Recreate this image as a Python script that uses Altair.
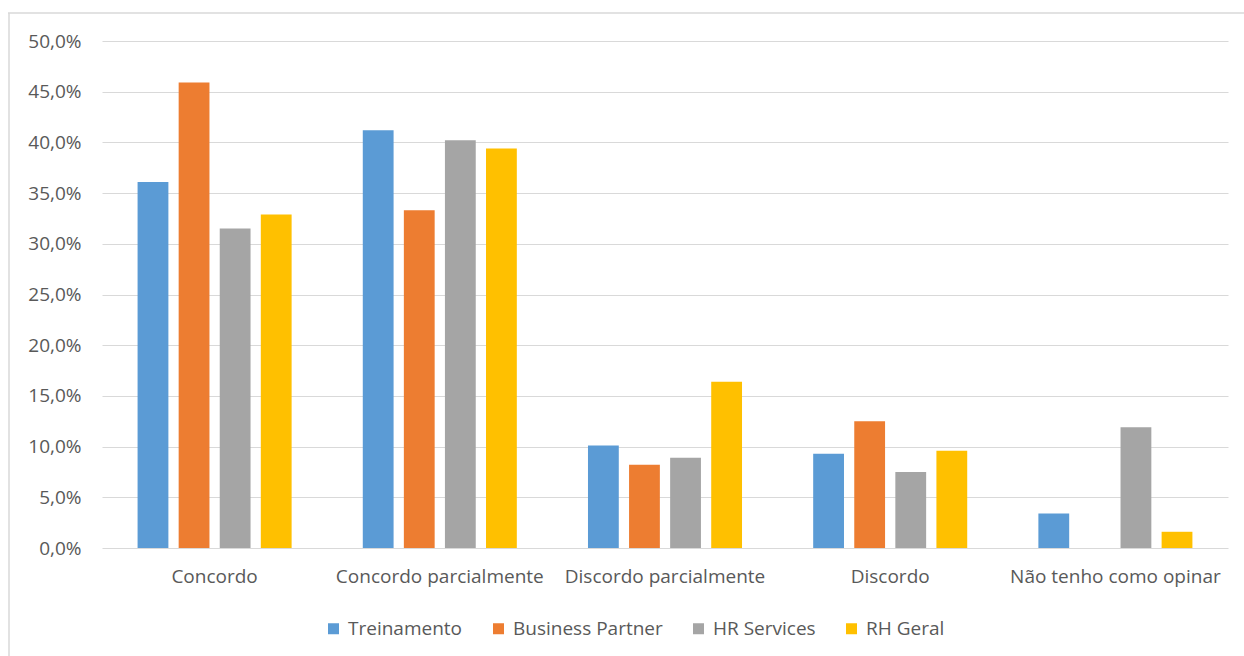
import altair as alt
import pandas as pd

categories = ["Concordo", "Concordo parcialmente", "Discordo parcialmente", "Discordo", "Não tenho como opinar"]
series = ["Treinamento", "Business Partner", "HR Services", "RH Geral"]
treinamento = [0.361, 0.412, 0.101, 0.093, 0.034]
business_partner = [0.459, 0.333, 0.082, 0.125, 0.0]
hr_services = [0.315, 0.402, 0.089, 0.075, 0.119]
rh_geral = [0.329, 0.394, 0.164, 0.096, 0.016]
colors = ["#5B9BD5", "#ED7D31", "#A5A5A5", "#FFC000"]

rows = []
for s, vals in zip(series, [treinamento, business_partner, hr_services, rh_geral]):
    for c, v in zip(categories, vals):
        rows.append({"categoria": c, "serie": s, "valor": v})
df = pd.DataFrame(rows)

FONT = "Open Sans"
TXT = "#595959"
GRID = "#D9D9D9"

bars = alt.Chart(df).mark_bar().encode(
    x=alt.X("categoria:N", sort=categories, title=None,
            scale=alt.Scale(paddingInner=0.316, paddingOuter=0.158),
            axis=alt.Axis(labelAngle=0, domain=False, ticks=False, labelPadding=19,
                          labelLimit=0, labelFont=FONT, labelFontSize=19,
                          labelColor=TXT, grid=False)),
    xOffset=alt.XOffset("serie:N", sort=series,
                        scale=alt.Scale(paddingInner=0.25, paddingOuter=0)),
    y=alt.Y("valor:Q", title=None,
            scale=alt.Scale(domain=[0, 0.5], nice=False),
            axis=alt.Axis(format=".1%", values=[i * 0.05 for i in range(11)], domain=False,
                          ticks=False, labelPadding=21, labelFont=FONT, labelFontSize=19,
                          labelColor=TXT, gridColor=GRID, gridWidth=1.2)),
    color=alt.Color("serie:N", sort=series, title=None,
                    scale=alt.Scale(domain=series, range=colors),
                    legend=alt.Legend(orient="none", direction="horizontal",
                                      legendX=222, legendY=578,
                                      symbolType="square", symbolSize=121,
                                      symbolStrokeWidth=0, labelOffset=5,
                                      columnPadding=26, labelFont=FONT,
                                      labelFontSize=19, labelColor=TXT, labelLimit=0)),
)

frame_df = pd.DataFrame({"a": [0]})
top_border = alt.Chart(frame_df).mark_rule(color=GRID, strokeWidth=1.5).encode(
    x=alt.value(-94), x2=alt.value(1142), y=alt.value(-28))
left_border = alt.Chart(frame_df).mark_rule(color=GRID, strokeWidth=1.5).encode(
    x=alt.value(-93), y=alt.value(-28), y2=alt.value(615))

chart = alt.layer(bars, top_border, left_border).properties(
    width=1126, height=507,
    autosize=alt.AutoSizeParams(type="none"),
    padding={"left": 102, "top": 41, "right": 16, "bottom": 108},
).configure(
    locale={"number": {"decimal": ",", "thousands": ".", "grouping": [3], "currency": ["R$", ""]}}
).configure_view(stroke=None)

chart.save("out.html", embed_options={"renderer": "svg", "actions": False})
